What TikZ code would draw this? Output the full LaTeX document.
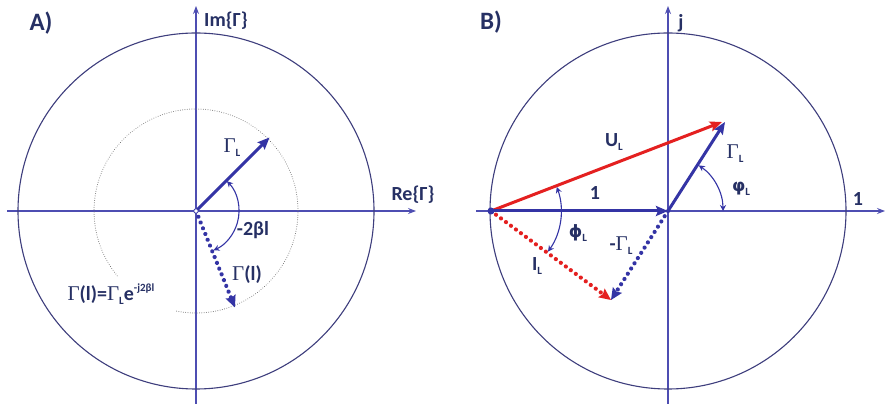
\documentclass[tikz,border=0pt]{standalone}
\usepackage{fontspec}
\setmainfont{Carlito}
\newfontfamily\serifG{Liberation Serif}
\newfontfamily\dejavu{DejaVu Sans}
\usetikzlibrary{arrows.meta,calc}
\definecolor{axcol}{RGB}{78,78,178}
\definecolor{circcol}{RGB}{62,62,125}
\definecolor{vcol}{RGB}{52,52,165}
\definecolor{rcol}{RGB}{228,32,32}
\definecolor{txtcol}{RGB}{38,48,100}
\definecolor{dotgray}{RGB}{120,120,120}
\newcommand{\Gam}{{\serifG\mdseries\fontsize{21}{21}\selectfont Γ}}
\newcommand{\subL}{\raisebox{-0.4ex}{\fontsize{11}{11}\selectfont L}}
\tikzset{
  axis/.style={draw=axcol, line width=1.1pt, -{Stealth[length=8pt,width=6pt]}},
  circ/.style={draw=circcol, line width=1.1pt},
  dotcirc/.style={draw=dotgray, line width=1pt, dash pattern=on 0.01pt off 2.3pt, line cap=round},
  vec/.style={draw=vcol, line width=3pt, -{Stealth[length=12pt,width=10pt,inset=2pt]}},
  rvec/.style={draw=rcol, line width=3pt, -{Stealth[length=12pt,width=10pt,inset=2pt]}},
  dvec/.style={draw=vcol, line width=4.2pt, dash pattern=on 0.01pt off 6.2pt, line cap=round, -{Stealth[length=12pt,width=11pt,inset=2pt,line width=0pt]}},
  rdvec/.style={draw=rcol, line width=4.2pt, dash pattern=on 0.01pt off 6.2pt, line cap=round, -{Stealth[length=12pt,width=11pt,inset=2pt,line width=0pt]}},
  angarc/.style={draw=vcol, line width=1.1pt, {Stealth[length=6pt,width=6pt]}-{Stealth[length=6pt,width=6pt]}},
  lbl/.style={text=txtcol, font=\bfseries\fontsize{20}{20}\selectfont, inner sep=0pt},
  big/.style={text=txtcol, font=\bfseries\fontsize{25}{25}\selectfont, inner sep=0pt},
}
\begin{document}
\begin{tikzpicture}[x=1pt,y=1pt]
\useasboundingbox[fill=white] (0,0) rectangle (886,404);
% ---------------- Panel A ----------------
\coordinate (OA) at (196,193);
\coordinate (AL) at (7,193);
\coordinate (AR) at (416,193);
\coordinate (AB) at (196,0);
\coordinate (AT) at (196,398);
\draw[axis] (AL) -- (AR);
\draw[axis] (AB) -- (AT);
\draw[circ] (OA) circle[radius=178];
\draw[dotcirc] ($(OA)+(-101:102)$) arc[start angle=-101,end angle=220,radius=102];
\coordinate (GLa) at ($(OA)+(45:104)$);
\coordinate (Gla) at ($(OA)+(-68:104)$);
\draw[vec] (OA) -- (GLa);
\draw[dvec] (OA) -- (Gla);
\draw[angarc] ($(OA)+(44:43)$) arc[start angle=44,end angle=-66,radius=43];
\node[draw=vcol, fill=white, circle, inner sep=0pt, minimum size=4.5pt, line width=0.8pt] (oA) at (OA) {};
\node[big] (labA) at (41,381) {A)};
\node[lbl, anchor=west] (imG) at (204,383) {Im\{Γ\}};
\node[lbl] (reG) at (413,209) {Re\{Γ\}};
\node[lbl] (GLlabA) at (232,256) {\Gam\subL};
\node[lbl] (twobl) at (253,174) {-2βl};
\node[lbl] (Gllab) at (247,129) {\Gam(l)};
\node[lbl] (formula) at (111,110) {\Gam(l)=\Gam\subL e\raisebox{0.9ex}{\fontsize{11}{11}\selectfont -j2βl}};
% ---------------- Panel B ----------------
\coordinate (OB) at (668,193);
\coordinate (P) at (491,193);
\coordinate (T) at ($(OB)+(57,89)$);
\coordinate (Q) at ($(OB)-(57,89)$);
\coordinate (BL) at (476,193);
\coordinate (BR) at (885,193);
\coordinate (BB) at (668,0);
\coordinate (BT) at (668,398);
\draw[axis] (BL) -- (BR);
\draw[axis] (BB) -- (BT);
\draw[circ] (OB) circle[radius=178];
\draw[rvec] (P) -- ($(T)+(-3,0)$);
\draw[rdvec] (P) -- (Q);
\draw[dvec] (OB) -- (Q);
\draw[vec] (P) -- (OB);
\draw[vec] (OB) -- (T);
\fill[vcol] (P) circle[radius=3.5];
\draw[angarc] ($(OB)+(0:55)$) arc[start angle=0,end angle=56,radius=55];
\draw[angarc] ($(P)+(20:70)$) arc[start angle=20,end angle=-35.5,radius=70];
\node[big] (labB) at (491,382) {B)};
\node[lbl] (jlab) at (681,381) {j};
\node[lbl] (onelabR) at (858,205) {1};
\node[lbl] (onelabM) at (595,211) {1};
\node[lbl] (ULlab) at (614,262) {U\subL};
\node[lbl] (GLlabB) at (735,250) {\Gam\subL};
\node[lbl] (varphilab) at (741,215) {{\dejavu\bfseries\fontsize{17}{17}\selectfont φ}\subL};
\node[lbl] (philab) at (578,171) {{\dejavu\bfseries\fontsize{17}{17}\selectfont ϕ}\subL};
\node[lbl] (ILlab) at (537,138) {I\subL};
\node[lbl] (mGLlab) at (621,158) {-\Gam\subL};
\end{tikzpicture}
\end{document}
